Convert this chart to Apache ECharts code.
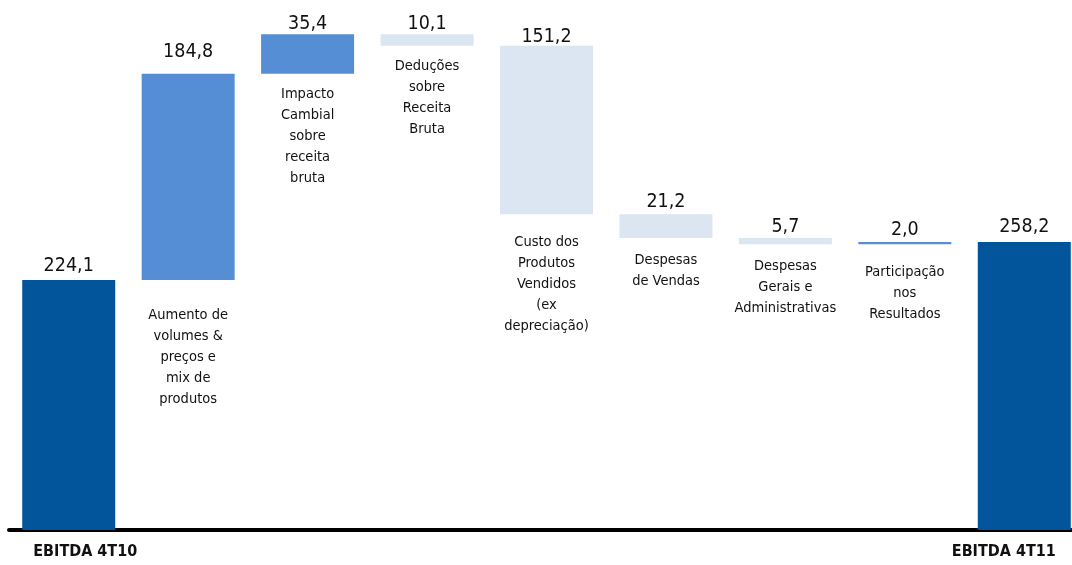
<!DOCTYPE html>
<html><head><meta charset="utf-8">
<script src="https://cdn.jsdelivr.net/npm/echarts@6/dist/echarts.min.js"></script>
<style>html,body{margin:0;padding:0;background:#fff}#c{width:1072px;height:565px}</style>
</head><body><div id="c"></div>
<script>
const categories = [
  'EBITDA 4T10',
  'Aumento de\nvolumes &\npreços e\nmix de\nprodutos',
  'Impacto\nCambial\nsobre\nreceita\nbruta',
  'Deduções\nsobre\nReceita\nBruta',
  'Custo dos\nProdutos\nVendidos\n(ex\ndepreciação)',
  'Despesas\nde Vendas',
  'Despesas\nGerais e\nAdministrativas',
  'Participação\nnos\nResultados',
  'EBITDA 4T11'
];
const values = [224.1, 184.8, 35.4, -10.1, -151.2, -21.2, -5.7, 2.0, 258.2];
const kinds = ['total', 'delta', 'delta', 'delta', 'delta', 'delta', 'delta', 'delta', 'total'];

// layout / style (not data)
const valueLabelGap = [4, 12, 0, 0, -1, 2, 1.5, 2, 5];
const catLabelGap = [0, 25, 10, 10, 17, 12, 11, 17, 0];
const COL_TOTAL = '#02559A', COL_UP = '#558ED5', COL_DOWN = '#DCE6F2';
const FONT = "'Liberation Sans Narrow','Arial Narrow','DejaVu Sans Condensed',sans-serif";

const baseData = [], barData = [];
let running = 0;
values.forEach((v, i) => {
  let base, h, color;
  if (kinds[i] === 'total') { base = 0; h = v; running = v; color = COL_TOTAL; }
  else if (v >= 0) { base = running; h = v; running += v; color = COL_UP; }
  else { running += v; base = running; h = -v; color = COL_DOWN; }
  baseData.push({
    value: base,
    label: kinds[i] === 'total' ? { show: false } : { show: true, distance: catLabelGap[i] }
  });
  barData.push({
    value: h,
    itemStyle: { color },
    label: { distance: valueLabelGap[i] }
  });
});

const chart = echarts.init(document.getElementById('c'), null, { renderer: 'canvas' });
chart.setOption({
  animation: false,
  grid: { left: 9, right: -12, top: 28, bottom: 35, containLabel: false, outerBoundsMode: 'none' },
  xAxis: {
    type: 'category',
    data: categories,
    axisLine: { lineStyle: { color: '#000', width: 4 } },
    axisTick: { show: false },
    axisLabel: {
      interval: 0,
      margin: 14,
      formatter: (val, idx) => idx === 0 ? '{a|' + val + '}' : (idx === categories.length - 1 ? '{b|' + val + '}' : ''),
      rich: {
        a: { fontFamily: FONT, fontSize: 16, fontWeight: 'bold', color: '#111', padding: [0, 0, 0, 33] },
        b: { fontFamily: FONT, fontSize: 16, fontWeight: 'bold', color: '#111', padding: [0, 41, 0, 0] }
      }
    }
  },
  yAxis: { type: 'value', min: 0, max: 450, show: false },
  series: [
    {
      type: 'bar', stack: 'w', barWidth: 93,
      itemStyle: { color: 'transparent' },
      label: {
        position: 'insideTop',
        formatter: p => categories[p.dataIndex],
        fontFamily: FONT, fontSize: 14.5, lineHeight: 21, color: '#111', align: 'center'
      },
      data: baseData
    },
    {
      type: 'bar', stack: 'w', barWidth: 93,
      label: {
        show: true, position: 'top',
        formatter: p => Math.abs(values[p.dataIndex]).toFixed(1).replace('.', ','),
        fontFamily: FONT, fontSize: 19.5, color: '#111'
      },
      data: barData
    }
  ]
});
</script></body></html>
